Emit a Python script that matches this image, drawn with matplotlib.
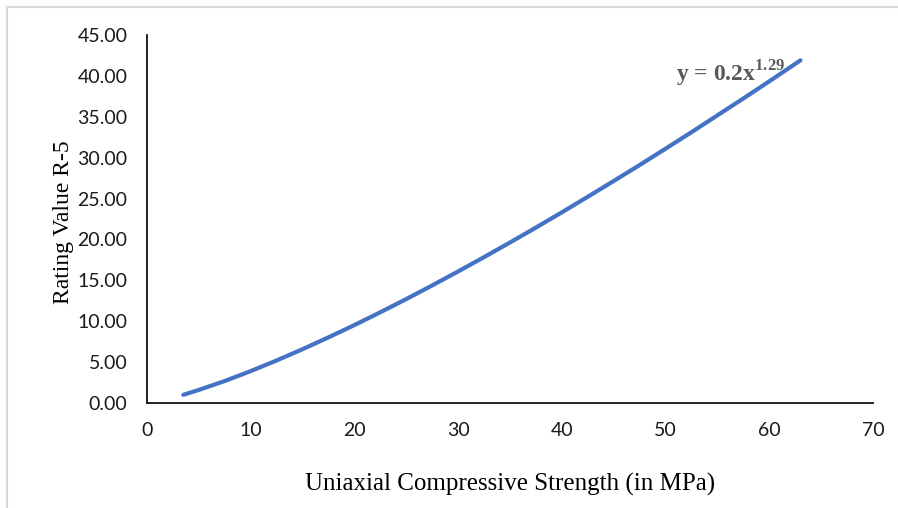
import matplotlib
matplotlib.use("Agg")
import matplotlib.pyplot as plt
from matplotlib.lines import Line2D

plt.rcParams["mathtext.fontset"] = "custom"
plt.rcParams["mathtext.rm"] = "Liberation Serif"
plt.rcParams["mathtext.bf"] = "Liberation Serif:bold"

# Fitted power-law curve, read at regular strength steps
ucs_mpa = [3.5, 5, 7.5, 10, 12.5, 15, 17.5, 20, 22.5, 25, 27.5, 30, 32.5, 35,
           37.5, 40, 42.5, 45, 47.5, 50, 52.5, 55, 57.5, 60, 63]
rating_r5 = [1.00, 1.60, 2.69, 3.90, 5.20, 6.58, 8.03, 9.53, 11.10, 12.71, 14.38, 16.09,
             17.84, 19.63, 21.45, 23.32, 25.22, 27.15, 29.10, 31.10, 33.12, 35.18, 37.24,
             39.34, 41.90]

x_ticks = [0, 10, 20, 30, 40, 50, 60, 70]
y_ticks = [0, 5, 10, 15, 20, 25, 30, 35, 40, 45]

fig = plt.figure(figsize=(8.98, 5.08), dpi=100)
ax = fig.add_axes([0.1637, 0.2067, 0.9722 - 0.1637, 0.9311 - 0.2067])

ax.plot(ucs_mpa, rating_r5, color="#4472C4", linewidth=3.0, solid_capstyle="round")

ax.set_xlim(0, 70)
ax.set_ylim(0, 45)
ax.set_xticks(x_ticks)
ax.set_yticks(y_ticks)
ax.set_yticklabels([f"{v:.2f}" for v in y_ticks])
ax.tick_params(axis="x", length=0, labelsize=14, pad=14, colors="#1a1a1a")
ax.tick_params(axis="y", length=0, labelsize=14, pad=14, colors="#1a1a1a")
for lbl in ax.get_xticklabels() + ax.get_yticklabels():
    lbl.set_family("Lato")

for side in ("top", "right"):
    ax.spines[side].set_visible(False)
for side in ("left", "bottom"):
    ax.spines[side].set_linewidth(1.3)
    ax.spines[side].set_color("#111111")

ax.set_xlabel("Uniaxial Compressive Strength (in MPa)", family="Liberation Serif",
              fontsize=18, labelpad=24)
ax.set_ylabel("Rating Value R-5", family="Liberation Serif", fontsize=17)
ax.yaxis.set_label_coords(-0.101, 0.49)

ax.text(51.0, 40.2, r"y = 0.2x$^{\mathbf{1.29}}$", family="Liberation Serif",
        fontsize=17, fontweight="bold", color="#595959", ha="left", va="center")

# light outer chart frame
fig.add_artist(Line2D([7 / 898, 7 / 898], [0, 1 - 7 / 508], color="#d9d9d9", lw=1.5))
fig.add_artist(Line2D([7 / 898, 1], [1 - 7 / 508, 1 - 7 / 508], color="#d9d9d9", lw=1.5))

fig.savefig("out.png", dpi=100)
